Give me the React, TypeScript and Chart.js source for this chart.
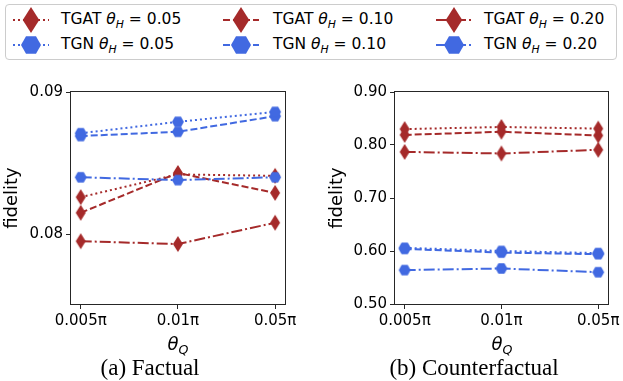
import React, { useEffect, useRef } from "react";
import { Chart, registerables } from "chart.js";

Chart.register(...registerables);

// ---- data ----
const categories = ["0.005π", "0.01π", "0.05π"];
const thetaH = ["0.05", "0.10", "0.20"];
const xTicks = [0, 1, 2];

const factualTGAT005 = [0.0826, 0.0842, 0.0841];
const factualTGAT010 = [0.0815, 0.0843, 0.0829];
const factualTGAT020 = [0.0795, 0.0793, 0.0808];
const factualTGN005 = [0.0871, 0.0879, 0.0886];
const factualTGN010 = [0.0869, 0.0872, 0.0883];
const factualTGN020 = [0.0840, 0.0838, 0.0840];
const factualYTicks = [0.08, 0.09];

const cfTGAT005 = [0.830, 0.834, 0.831];
const cfTGAT010 = [0.819, 0.825, 0.818];
const cfTGAT020 = [0.787, 0.784, 0.791];
const cfTGN005 = [0.606, 0.600, 0.596];
const cfTGN010 = [0.604, 0.597, 0.594];
const cfTGN020 = [0.564, 0.567, 0.560];
const cfYTicks = [0.5, 0.6, 0.7, 0.8, 0.9];

// ---- styles ----
const RED = "#A52A2A";
const BLUE = "#4169E1";
const DASHES = [[2, 3], [7, 3], [11, 3, 2, 3]];
const FONT = "'DejaVu Sans', sans-serif";

function makeMarker(kind: "diamond" | "hex", color: string, w: number, h: number) {
  const c = document.createElement("canvas");
  c.width = Math.ceil(w) + 2;
  c.height = Math.ceil(h) + 2;
  const ctx = c.getContext("2d")!;
  const cx = c.width / 2;
  const cy = c.height / 2;
  ctx.fillStyle = color;
  ctx.beginPath();
  if (kind === "diamond") {
    ctx.moveTo(cx, cy - h / 2);
    ctx.lineTo(cx + w / 2, cy);
    ctx.lineTo(cx, cy + h / 2);
    ctx.lineTo(cx - w / 2, cy);
  } else {
    const r = w / 2;
    for (let k = 0; k < 6; k++) {
      const a = (Math.PI / 3) * k;
      const px = cx + r * Math.cos(a);
      const py = cy + r * Math.sin(a);
      if (k === 0) ctx.moveTo(px, py);
      else ctx.lineTo(px, py);
    }
  }
  ctx.closePath();
  ctx.fill();
  return c;
}

const framePlugin = {
  id: "frame",
  afterDraw(chart: any) {
    const { ctx, chartArea } = chart;
    const l = Math.round(chartArea.left) - 0.5;
    const t = Math.round(chartArea.top) - 0.5;
    const r = Math.round(chartArea.right) + 0.5;
    const b = Math.round(chartArea.bottom) + 0.5;
    ctx.save();
    ctx.strokeStyle = "#262626";
    ctx.lineWidth = 1;
    ctx.strokeRect(l, t, r - l, b - t);
    ctx.restore();
  },
};

type PanelProps = {
  left: number;
  width: number;
  yMin: number;
  yMax: number;
  yTicks: number[];
  tgat: number[][];
  tgn: number[][];
  yAxisWidth: number;
  padRight: number;
  titlePad: number;
};

function Panel(p: PanelProps) {
  const ref = useRef<HTMLCanvasElement>(null);
  useEffect(() => {
    const diamond = makeMarker("diamond", RED, 10, 16);
    const hex = makeMarker("hex", BLUE, 12, 12 * Math.sqrt(3) / 2);
    const datasets: any[] = [];
    p.tgat.forEach((vals, i) => {
      datasets.push({
        label: `TGAT ${thetaH[i]}`,
        data: vals.map((y, x) => ({ x: xTicks[x], y })),
        borderColor: RED,
        backgroundColor: RED,
        borderDash: DASHES[i],
        borderWidth: 2,
        pointStyle: diamond,
        pointRadius: 6,
        fill: false,
        tension: 0,
        order: 1,
      });
    });
    p.tgn.forEach((vals, i) => {
      datasets.push({
        label: `TGN ${thetaH[i]}`,
        data: vals.map((y, x) => ({ x: xTicks[x], y })),
        borderColor: BLUE,
        backgroundColor: BLUE,
        borderDash: DASHES[i],
        borderWidth: 2,
        pointStyle: hex,
        pointRadius: 6,
        fill: false,
        tension: 0,
        order: 0,
      });
    });
    const chart = new Chart(ref.current!, {
      type: "line",
      data: { datasets },
      plugins: [framePlugin],
      options: {
        animation: false,
        responsive: false,
        devicePixelRatio: 1,
        layout: { padding: { left: 0, top: 22, right: p.padRight, bottom: 0 } },
        plugins: { legend: { display: false }, tooltip: { enabled: false } },
        scales: {
          x: {
            type: "linear",
            min: -0.1,
            max: 2.1,
            afterBuildTicks: (s: any) => {
              s.ticks = xTicks.map((v) => ({ value: v }));
            },
            afterFit: (s: any) => {
              s.height = 56;
            },
            ticks: {
              callback: (v: any) => categories[v as number] ?? "",
              font: { family: FONT, size: 15 },
              color: "#000",
              maxRotation: 0,
              autoSkip: false,
              padding: 3,
            },
            grid: { display: true, drawOnChartArea: false, drawTicks: true, tickLength: 5, color: "#262626" },
            border: { display: false },
          },
          y: {
            type: "linear",
            min: p.yMin,
            max: p.yMax,
            afterBuildTicks: (s: any) => {
              s.ticks = p.yTicks.map((v) => ({ value: v }));
            },
            afterFit: (s: any) => {
              s.width = p.yAxisWidth;
            },
            ticks: {
              callback: (v: any) => (v as number).toFixed(2),
              font: { family: FONT, size: 15 },
              color: "#000",
              padding: 3,
            },
            grid: { display: true, drawOnChartArea: false, drawTicks: true, tickLength: 5, color: "#262626" },
            border: { display: false },
            title: {
              display: true,
              text: "fidelity",
              font: { family: FONT, size: 18 },
              color: "#000",
              padding: { top: p.titlePad, bottom: 0 },
            },
          },
        },
      } as any,
    });
    return () => chart.destroy();
  }, []);
  return (
    <canvas
      ref={ref}
      width={p.width}
      height={290}
      style={{ position: "absolute", left: p.left, top: 70, width: p.width, height: 290 }}
    />
  );
}

function LegendHandle({ kind, color, dash, cx, cy }: any) {
  const w = kind === "diamond" ? 16.5 : 20;
  const h = kind === "diamond" ? 26 : 20 * Math.sqrt(3) / 2;
  let pts = "";
  if (kind === "diamond") {
    pts = `18,${15 - h / 2} ${18 + w / 2},15 18,${15 + h / 2} ${18 - w / 2},15`;
  } else {
    const r = w / 2;
    const arr: string[] = [];
    for (let k = 0; k < 6; k++) {
      const a = (Math.PI / 3) * k;
      arr.push(`${18 + r * Math.cos(a)},${15 + r * Math.sin(a)}`);
    }
    pts = arr.join(" ");
  }
  return (
    <svg
      width={36}
      height={30}
      style={{ position: "absolute", left: cx - 18, top: cy - 15, overflow: "visible" }}
    >
      <line x1={0} y1={15} x2={36} y2={15} stroke={color} strokeWidth={2} strokeDasharray={dash.join(",")} />
      <polygon points={pts} fill={color} />
    </svg>
  );
}

function LegendText({ model, th, x, cy }: any) {
  return (
    <div
      style={{
        position: "absolute",
        left: x,
        top: cy,
        transform: "translateY(-50%)",
        fontFamily: FONT,
        fontSize: 15.5,
        lineHeight: 1,
        whiteSpace: "nowrap",
        color: "#000",
      }}
    >
      {model} <i>θ</i>
      <i style={{ fontSize: "70%", position: "relative", top: "0.35em" }}>H</i> = {th}
    </div>
  );
}

export default function App() {
  const colHandle = [31, 241, 454];
  const colText = [61, 273, 484];
  const rows = [20, 45];
  return (
    <div
      style={{
        position: "fixed",
        left: 0,
        top: 0,
        width: 623,
        height: 381,
        background: "#fff",
        overflow: "hidden",
      }}
    >
      <div
        style={{
          position: "absolute",
          left: 5,
          top: 4,
          width: 612,
          height: 56,
          border: "1px solid #cccccc",
          borderRadius: 4,
          boxSizing: "border-box",
        }}
      />
      {thetaH.map((th, i) => (
        <React.Fragment key={th}>
          <LegendHandle kind="diamond" color={RED} dash={DASHES[i]} cx={colHandle[i]} cy={rows[0]} />
          <LegendText model="TGAT" th={th} x={colText[i]} cy={rows[0]} />
          <LegendHandle kind="hex" color={BLUE} dash={DASHES[i]} cx={colHandle[i]} cy={rows[1]} />
          <LegendText model="TGN" th={th} x={colText[i]} cy={rows[1]} />
        </React.Fragment>
      ))}

      <Panel
        left={0}
        width={300}
        yMin={0.07508}
        yMax={0.09}
        yTicks={factualYTicks}
        tgat={[factualTGAT005, factualTGAT010, factualTGAT020]}
        tgn={[factualTGN005, factualTGN010, factualTGN020]}
        yAxisWidth={71}
        padRight={15}
        titlePad={2}
      />
      <Panel
        left={320}
        width={303}
        yMin={0.5}
        yMax={0.9}
        yTicks={cfYTicks}
        tgat={[cfTGAT005, cfTGAT010, cfTGAT020]}
        tgn={[cfTGN005, cfTGN010, cfTGN020]}
        yAxisWidth={75}
        padRight={13}
        titlePad={7}
      />

      {[178, 502].map((cx) => (
        <div
          key={cx}
          style={{
            position: "absolute",
            left: cx,
            top: 344,
            transform: "translate(-50%, -50%)",
            fontFamily: FONT,
            fontSize: 18,
            lineHeight: 1,
            fontStyle: "italic",
            whiteSpace: "nowrap",
          }}
        >
          θ<span style={{ fontSize: "70%", position: "relative", top: "0.35em" }}>Q</span>
        </div>
      ))}
      {[
        { cx: 150, t: "(a) Factual" },
        { cx: 474, t: "(b) Counterfactual" },
      ].map((c) => (
        <div
          key={c.t}
          style={{
            position: "absolute",
            left: c.cx,
            top: 367,
            transform: "translate(-50%, -50%)",
            fontFamily: "'Liberation Serif', 'Times New Roman', serif",
            fontSize: 23,
            lineHeight: 1,
            whiteSpace: "nowrap",
          }}
        >
          {c.t}
        </div>
      ))}
    </div>
  );
}
